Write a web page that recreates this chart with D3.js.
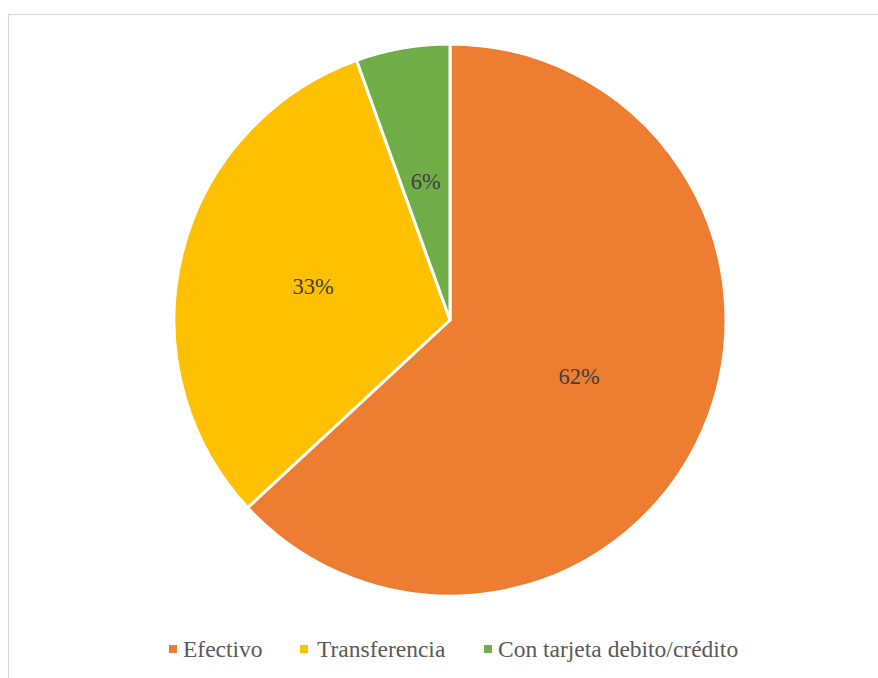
<!DOCTYPE html>
<html><head><meta charset="utf-8">
<script src="https://cdn.jsdelivr.net/npm/d3@7"></script>
<style>body{margin:0;background:#fff}svg{display:block}text{font-family:'Liberation Serif','Times New Roman','DejaVu Serif',serif}</style>
</head><body>
<svg id="c" width="878" height="678"></svg>
<script>
const categories = ["Efectivo", "Transferencia", "Con tarjeta debito/crédito"];
const values = [63.1, 31.4, 5.5];
const labels = ["62%", "33%", "6%"];
const colors = ["#ED7D31", "#FFC000", "#70AD47"];

const svg = d3.select("#c");
svg.append("rect").attr("x", 8.5).attr("y", 14.5).attr("width", 900).attr("height", 700)
  .attr("fill", "#fff").attr("stroke", "#d9d9d9").attr("stroke-width", 1.2);

const cx = 450, cy = 320, R = 276;
const pie = d3.pie().sort(null).value(d => d)(values);
const arc = d3.arc().innerRadius(0).outerRadius(R);
const labelArc = d3.arc().innerRadius(R * 0.51).outerRadius(R * 0.51);
const g = svg.append("g").attr("transform", `translate(${cx},${cy})`);
g.selectAll("path").data(pie).join("path")
  .attr("d", arc).attr("fill", (d, i) => colors[i])
  .attr("stroke", "#fff").attr("stroke-width", 3).attr("stroke-linejoin", "round");
g.selectAll("text").data(pie).join("text")
  .attr("transform", d => `translate(${labelArc.centroid(d)})`)
  .attr("text-anchor", "middle").attr("dy", "0.33em")
  .attr("font-size", 22.5).attr("fill", "#404040")
  .text((d, i) => labels[i]);

const legX = [169, 300, 484];
const legT = [183, 317, 498];
const lg = svg.append("g");
categories.forEach((c, i) => {
  lg.append("rect").attr("x", legX[i]).attr("y", 645).attr("width", 8).attr("height", 8).attr("fill", colors[i]);
  lg.append("text").attr("x", legT[i]).attr("y", 657)
    .attr("font-size", 23.5).attr("fill", "#595959").text(c);
});
</script>
</body></html>
